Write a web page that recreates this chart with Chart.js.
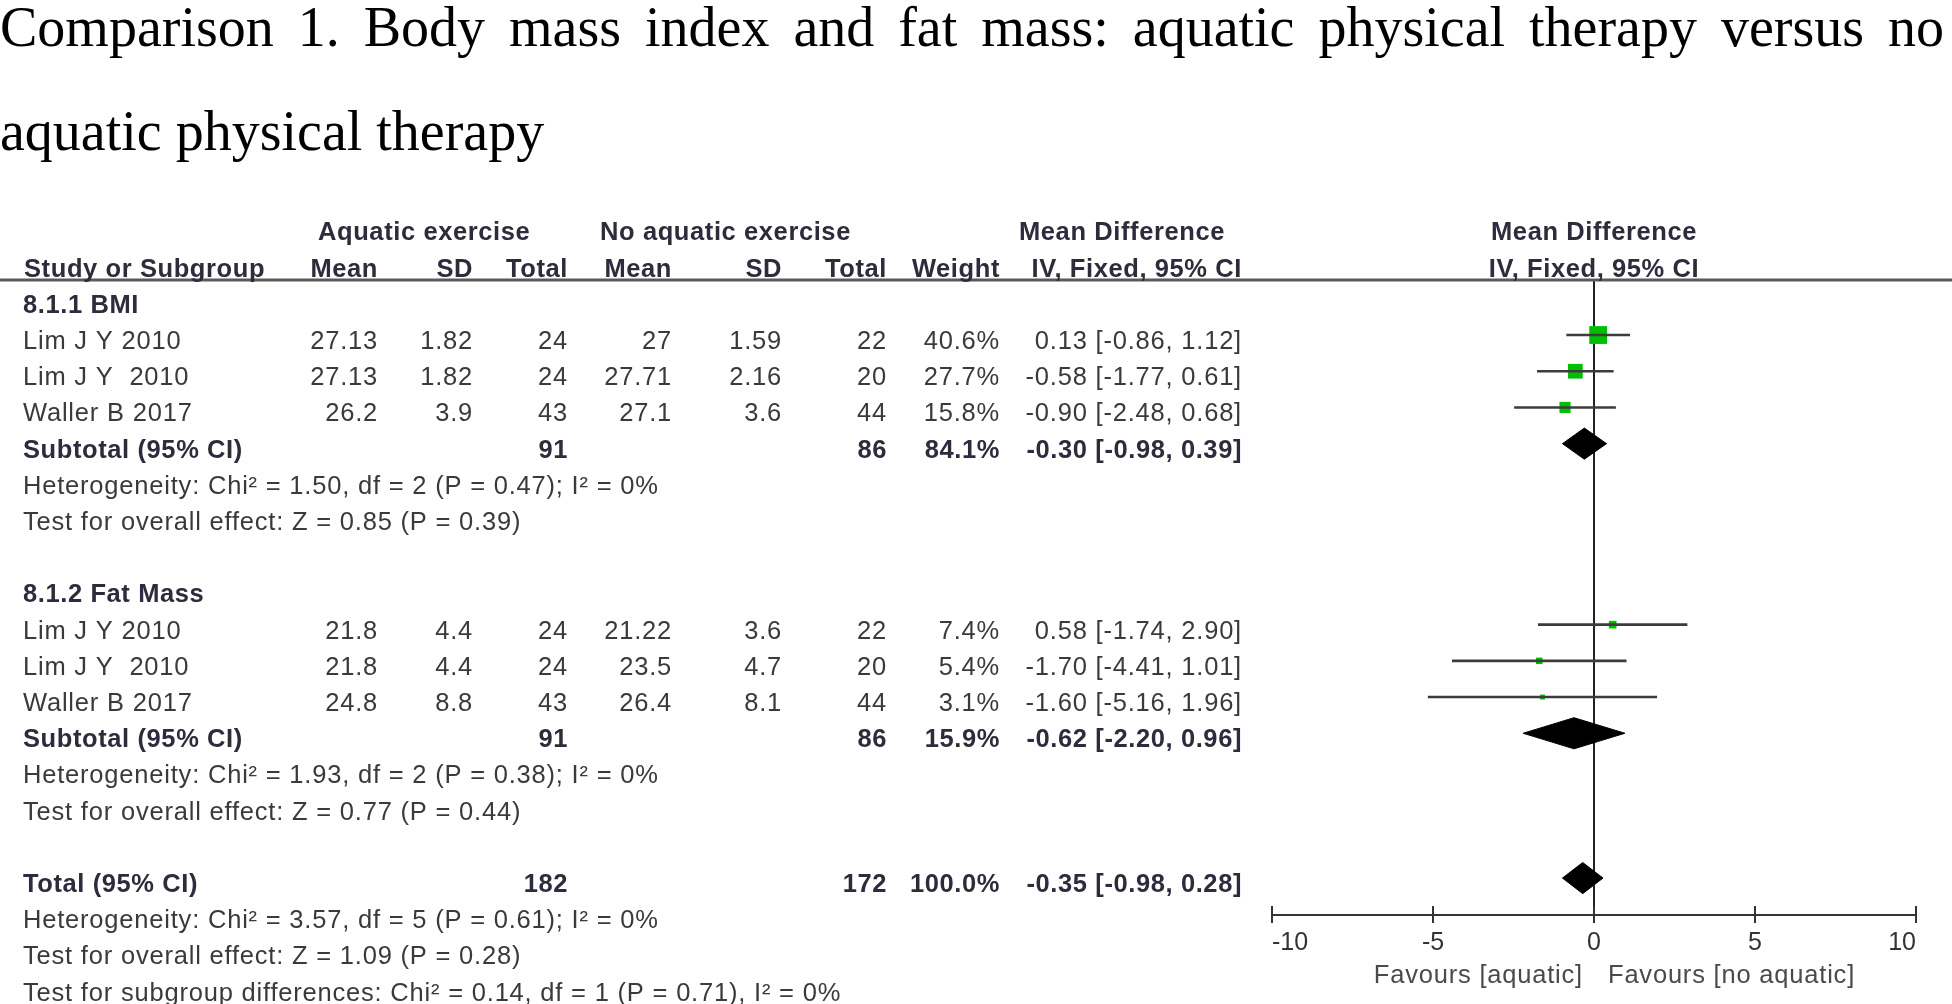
<!DOCTYPE html>
<html>
<head>
<meta charset="utf-8">
<script src="https://cdn.jsdelivr.net/npm/chart.js@4.4.1/dist/chart.umd.min.js"></script>
<style>
	html, body { margin: 0; padding: 0; background: #fff; }
	#page { position: relative; width: 1952px; height: 1004px; overflow: hidden; }
	#forest { position: absolute; left: 0; top: 0; }
	.title { position: absolute; left: 0; width: 1944px; font-family: "Liberation Serif", "Times New Roman", serif; font-size: 56px; line-height: 60px; color: #000; white-space: nowrap; }
	.title.l1 { top: -3px; text-align: justify; text-align-last: justify; white-space: normal; }
	.title.l2 { top: 101px; }
</style>
</head>
<body>
<div id="page">
	<canvas id="forest" width="1952" height="1004"></canvas>
	<div class="title l1">Comparison 1. Body mass index and fat mass: aquatic physical therapy versus no</div>
	<div class="title l2">aquatic physical therapy</div>
</div>
<script>
// study rows
var studyNames = ['Lim J Y 2010', 'Lim J Y  2010', 'Waller B 2017', 'Lim J Y 2010', 'Lim J Y  2010', 'Waller B 2017'];
var studyGroup = [0, 0, 0, 1, 1, 1];
var aqMean = [27.13, 27.13, 26.2, 21.8, 21.8, 24.8];
var aqSD = [1.82, 1.82, 3.9, 4.4, 4.4, 8.8];
var aqTotal = [24, 24, 43, 24, 24, 43];
var noMean = [27, 27.71, 27.1, 21.22, 23.5, 26.4];
var noSD = [1.59, 2.16, 3.6, 3.6, 4.7, 8.1];
var noTotal = [22, 20, 44, 22, 20, 44];
var weight = [40.6, 27.7, 15.8, 7.4, 5.4, 3.1];
var md = [0.13, -0.58, -0.90, 0.58, -1.70, -1.60];
var ciLow = [-0.86, -1.77, -2.48, -1.74, -4.41, -5.16];
var ciHigh = [1.12, 0.61, 0.68, 2.90, 1.01, 1.96];

// subgroups + overall
var groupNames = ['8.1.1 BMI', '8.1.2 Fat Mass'];
var groupHet = ['Heterogeneity: Chi\u00b2 = 1.50, df = 2 (P = 0.47); I\u00b2 = 0%', 'Heterogeneity: Chi\u00b2 = 1.93, df = 2 (P = 0.38); I\u00b2 = 0%'];
var groupTest = ['Test for overall effect: Z = 0.85 (P = 0.39)', 'Test for overall effect: Z = 0.77 (P = 0.44)'];
var pooledLabels = ['Subtotal (95% CI)', 'Subtotal (95% CI)', 'Total (95% CI)'];
var pooledAqTotal = [91, 91, 182];
var pooledNoTotal = [86, 86, 172];
var pooledWeight = [84.1, 15.9, 100.0];
var pooledMd = [-0.30, -0.62, -0.35];
var pooledLow = [-0.98, -2.20, -0.98];
var pooledHigh = [0.39, 0.96, 0.28];
var totalNotes = ['Heterogeneity: Chi\u00b2 = 3.57, df = 5 (P = 0.61); I\u00b2 = 0%', 'Test for overall effect: Z = 1.09 (P = 0.28)', 'Test for subgroup differences: Chi\u00b2 = 0.14, df = 1 (P = 0.71), I\u00b2 = 0%'];

var axisTicks = [-10, -5, 0, 5, 10];
var favourLeft = 'Favours [aquatic]';
var favourRight = 'Favours [no aquatic]';

// lay the rows out top to bottom
var rows = [];
var studyRow = [];
var pooledRow = [];
var r = 0;
groupNames.forEach(function (g, gi) {
	rows.push({ row: r++, kind: 'heading', text: g });
	studyGroup.forEach(function (sg, i) {
		if (sg === gi) { studyRow[i] = r; rows.push({ row: r++, kind: 'study', i: i }); }
	});
	pooledRow[gi] = r;
	rows.push({ row: r++, kind: 'pooled', i: gi });
	rows.push({ row: r++, kind: 'note', text: groupHet[gi] });
	rows.push({ row: r++, kind: 'note', text: groupTest[gi] });
	r++;
});
pooledRow[2] = r;
rows.push({ row: r++, kind: 'pooled', i: 2 });
totalNotes.forEach(function (t) { rows.push({ row: r++, kind: 'note', text: t }); });

var GREEN = '#00bf00';
var TXT = '#3a3a3a';
var BOLD = '#2c2c3c';
var FONT = '"Liberation Sans", Arial, sans-serif';
var DIAMOND_H = 0.43;

var datasets = [];
md.forEach(function (m, i) {
	datasets.push({
		type: 'line',
		data: [{ x: ciLow[i], y: studyRow[i] }, { x: ciHigh[i], y: studyRow[i] }],
		borderColor: '#3c3c3c', borderWidth: 2.6, pointRadius: 0, fill: false, tension: 0
	});
});
datasets.push({
	type: 'scatter',
	data: md.map(function (m, i) { return { x: m, y: studyRow[i] }; }),
	pointStyle: 'rect',
	backgroundColor: GREEN,
	pointBorderWidth: 0,
	pointRadius: function (c) { return 2.8 * Math.sqrt(weight[c.dataIndex]) * Math.SQRT1_2; }
});
pooledMd.forEach(function (m, i) {
	var y = pooledRow[i];
	datasets.push({
		type: 'line',
		data: [{ x: pooledLow[i], y: y }, { x: m, y: y - DIAMOND_H }, { x: pooledHigh[i], y: y }, { x: m, y: y + DIAMOND_H }, { x: pooledLow[i], y: y }],
		borderColor: '#000', backgroundColor: '#000', borderWidth: 1, pointRadius: 0, fill: 'shape', tension: 0
	});
});

function txt(ctx, s, px, py, align, bold) {
	ctx.font = (bold ? 'bold ' : '') + '25.5px ' + FONT;
	ctx.letterSpacing = bold ? '0.6px' : '0.8px';
	ctx.fillStyle = bold ? BOLD : TXT;
	ctx.textAlign = align;
	ctx.textBaseline = 'alphabetic';
	ctx.fillText(s, px, py);
}

var colRight = [378, 473, 568, 672, 782, 887, 1000, 1242];
var fmtCI = function (m, lo, hi) { return m.toFixed(2) + ' [' + lo.toFixed(2) + ', ' + hi.toFixed(2) + ']'; };

var forestTable = {
	id: 'forestTable',
	afterDraw: function (chart) {
		var ctx = chart.ctx;
		var ys = chart.scales.y, xs = chart.scales.x;
		var area = chart.chartArea;
		var base = function (row) { return ys.getPixelForValue(row) + 14; };
		ctx.save();

		// rule under the header
		ctx.strokeStyle = '#5a5a5a';
		ctx.lineWidth = 3;
		ctx.beginPath(); ctx.moveTo(0, area.top); ctx.lineTo(chart.width, area.top); ctx.stroke();

		// upper half of the axis ticks
		ctx.strokeStyle = '#333'; ctx.lineWidth = 2;
		xs.ticks.forEach(function (t) {
			var px = xs.getPixelForValue(t.value);
			ctx.beginPath(); ctx.moveTo(px, area.bottom - 9); ctx.lineTo(px, area.bottom); ctx.stroke();
		});

		// header
		txt(ctx, 'Aquatic exercise', 318, base(-2), 'left', true);
		txt(ctx, 'No aquatic exercise', 600, base(-2), 'left', true);
		txt(ctx, 'Mean Difference', 1019, base(-2), 'left', true);
		txt(ctx, 'Mean Difference', xs.getPixelForValue(0), base(-2), 'center', true);
		txt(ctx, 'Study or Subgroup', 24, base(-1), 'left', true);
		['Mean', 'SD', 'Total', 'Mean', 'SD', 'Total', 'Weight', 'IV, Fixed, 95% CI'].forEach(function (h, k) {
			txt(ctx, h, colRight[k], base(-1), 'right', true);
		});
		txt(ctx, 'IV, Fixed, 95% CI', xs.getPixelForValue(0), base(-1), 'center', true);

		rows.forEach(function (e) {
			var b = base(e.row);
			if (e.kind === 'heading') {
				txt(ctx, e.text, 23, b, 'left', true);
			} else if (e.kind === 'note') {
				txt(ctx, e.text, 23, b, 'left', false);
			} else if (e.kind === 'study') {
				var i = e.i;
				txt(ctx, studyNames[i], 23, b, 'left', false);
				[String(aqMean[i]), String(aqSD[i]), String(aqTotal[i]), String(noMean[i]), String(noSD[i]), String(noTotal[i]),
					weight[i].toFixed(1) + '%', fmtCI(md[i], ciLow[i], ciHigh[i])].forEach(function (v, k) {
					txt(ctx, v, colRight[k], b, 'right', false);
				});
			} else if (e.kind === 'pooled') {
				var p = e.i;
				txt(ctx, pooledLabels[p], 23, b, 'left', true);
				txt(ctx, String(pooledAqTotal[p]), colRight[2], b, 'right', true);
				txt(ctx, String(pooledNoTotal[p]), colRight[5], b, 'right', true);
				txt(ctx, pooledWeight[p].toFixed(1) + '%', colRight[6], b, 'right', true);
				txt(ctx, fmtCI(pooledMd[p], pooledLow[p], pooledHigh[p]), colRight[7], b, 'right', true);
			}
		});

		// favours labels
		var zero = xs.getPixelForValue(0);
		ctx.font = '25.5px ' + FONT;
		ctx.letterSpacing = '0.8px';
		ctx.fillStyle = '#4a4a4a';
		ctx.textAlign = 'right';
		ctx.fillText(favourLeft, zero - 11, 983);
		ctx.textAlign = 'left';
		ctx.fillText(favourRight, zero + 14, 983);
		ctx.restore();
	}
};

var ctx = document.getElementById('forest').getContext('2d');
var forestChart = new Chart(ctx, {
	type: 'scatter',
	data: { datasets: datasets },
	options: {
		responsive: false,
		animation: false,
		devicePixelRatio: 1,
		layout: { padding: { left: 1272, right: 36, top: 280, bottom: 29 } },
		plugins: { legend: { display: false }, tooltip: { enabled: false } },
		scales: {
			x: {
				type: 'linear',
				min: axisTicks[0],
				max: axisTicks[axisTicks.length - 1],
				afterBuildTicks: function (s) { s.ticks = axisTicks.map(function (v) { return { value: v }; }); },
				afterFit: function (s) { s.height = 60; },
				ticks: { align: 'inner', padding: 5, color: '#333', font: { family: 'Liberation Sans', size: 25 } },
				grid: {
					drawOnChartArea: true,
					color: function (c) { return c.tick && c.tick.value === 0 ? '#222' : 'rgba(0,0,0,0)'; },
					lineWidth: 2,
					tickLength: 8,
					tickColor: '#333',
					tickWidth: 2
				},
				border: { display: true, color: '#333', width: 2 }
			},
			y: { type: 'linear', display: false, reverse: true, min: -0.52, max: 17.02 }
		}
	},
	plugins: [forestTable]
});
</script>
</body>
</html>
